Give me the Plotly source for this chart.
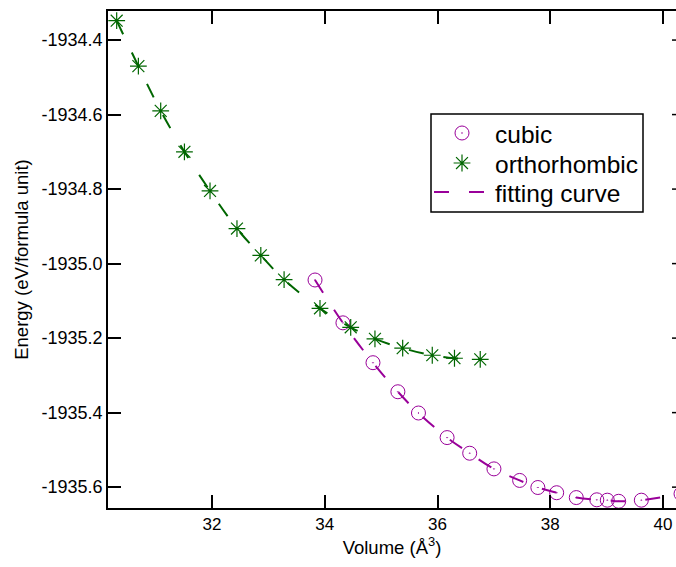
import plotly.graph_objects as go

# Data
cubic_volume = [33.827, 34.322, 34.855, 35.297, 35.662, 36.170, 36.571, 37.001, 37.457,
                37.780, 38.114, 38.462, 38.826, 39.012, 39.214, 39.616, 40.32]
cubic_energy = [-1935.044, -1935.159, -1935.266, -1935.344, -1935.401, -1935.467, -1935.509,
                -1935.551, -1935.582, -1935.601, -1935.615, -1935.628, -1935.634, -1935.635,
                -1935.638, -1935.635, -1935.618]

ortho_volume = [30.308, 30.693, 31.089, 31.510, 31.964, 32.442, 32.865, 33.278, 33.915,
                34.460, 34.890, 35.382, 35.907, 36.301, 36.758]
ortho_energy = [-1934.348, -1934.470, -1934.590, -1934.700, -1934.805, -1934.906, -1934.978,
                -1935.043, -1935.120, -1935.171, -1935.202, -1935.227, -1935.246, -1935.254,
                -1935.257]

x_ticks = [32, 34, 36, 38, 40]
y_ticks = [-1935.6, -1935.4, -1935.2, -1935.0, -1934.8, -1934.6, -1934.4]
y_tick_labels = ["-1935.6", "-1935.4", "-1935.2", "-1935.0", "-1934.8", "-1934.6", "-1934.4"]

MAGENTA = "#990099"
GREEN = "#006600"
FONT = "Liberation Sans, Arial, sans-serif"
DASH = "15px,20px"

fig = go.Figure()

fig.add_trace(go.Scatter(
    x=ortho_volume, y=ortho_energy, mode="lines", line_shape="spline",
    line=dict(color=GREEN, width=2, dash=DASH), showlegend=False, hoverinfo="skip"))
fig.add_trace(go.Scatter(
    x=cubic_volume, y=cubic_energy, mode="lines", line_shape="spline",
    line=dict(color=MAGENTA, width=2, dash=DASH), name="fitting curve", legend="legend3"))
fig.add_trace(go.Scatter(
    x=cubic_volume, y=cubic_energy, mode="markers", name="cubic", legend="legend",
    marker=dict(symbol="circle-open-dot", size=14, color=MAGENTA, line=dict(width=1, color=MAGENTA))))
fig.add_trace(go.Scatter(
    x=ortho_volume, y=ortho_energy, mode="markers", name="orthorhombic", legend="legend2",
    marker=dict(symbol="asterisk-open", size=14, color=GREEN, line=dict(width=1.2, color=GREEN))))

# plot area: x 108..676 px, y 11..507.7 px
def px_x(px):
    return (px - 108) / 568.0

def px_y(py):
    return 1 - (py - 11) / 496.7

shapes = [dict(type="line", xref="paper", yref="y", x0=1 - 4 / 568, x1=1, y0=v, y1=v,
               line=dict(color="black", width=1.5)) for v in y_ticks]
# legend frame
shapes.append(dict(type="rect", xref="paper", yref="paper", layer="below",
                   x0=px_x(431), x1=px_x(643), y0=px_y(212), y1=px_y(114),
                   fillcolor="white", line=dict(color="black", width=1.5)))

def leg(py):
    return dict(x=px_x(429), y=px_y(py), xanchor="left", yanchor="middle",
                bgcolor="rgba(0,0,0,0)", borderwidth=0,
                font=dict(size=24.5, family=FONT, color="black"), itemwidth=56)

fig.update_layout(
    width=676, height=567,
    margin=dict(l=108, r=0, t=11, b=59),
    paper_bgcolor="white", plot_bgcolor="white",
    font=dict(family=FONT, size=17, color="black"),
    showlegend=True,
    legend=leg(133), legend2=leg(163), legend3=leg(192),
    shapes=shapes,
    xaxis=dict(range=[30.154, 40.231], tickvals=x_ticks, ticks="inside", ticklen=13,
               tickwidth=1.5, tickcolor="black", showline=True, linecolor="black",
               linewidth=1.5, mirror="ticks", showgrid=False, zeroline=False,
               tickfont=dict(size=17),
               title=dict(text="Volume (Å<sup>3</sup>)", font=dict(size=18.5), standoff=6)),
    yaxis=dict(range=[-1935.656, -1934.322], tickvals=y_ticks, ticktext=y_tick_labels,
               ticks="inside", ticklen=13, tickwidth=1.5, tickcolor="black",
               showline=True, linecolor="black", linewidth=1.5, mirror=False,
               showgrid=False, zeroline=False, tickfont=dict(size=18),
               title=dict(text="Energy (eV/formula unit)", font=dict(size=18.5), standoff=8)),
)

fig.write_html("out.html")
